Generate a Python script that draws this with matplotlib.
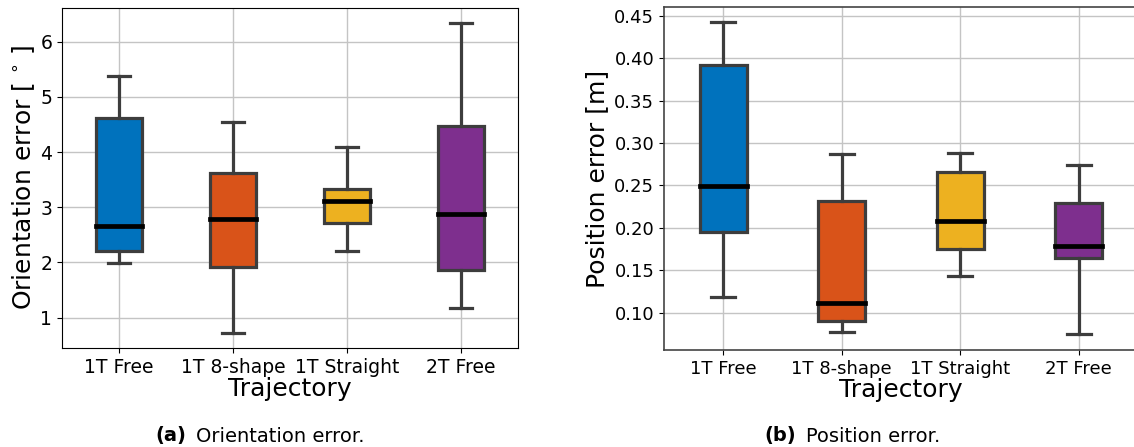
#!/usr/bin/env python3

from matplotlib.pyplot import figure, savefig, close

# Trajectory groups and box colours
labels = ["1T Free", "1T 8-shape", "1T Straight", "2T Free"]
colors = ["#0072BD", "#D95319", "#EDB120", "#7E2F8E"]

# Orientation error [deg]: whisker low, q1, median, q3, whisker high
orient_low = [1.99, 0.73, 2.20, 1.18]
orient_q1 = [2.20, 1.91, 2.71, 1.87]
orient_med = [2.66, 2.78, 3.11, 2.87]
orient_q3 = [4.61, 3.62, 3.33, 4.48]
orient_high = [5.38, 4.55, 4.10, 6.33]

# Position error [m]
pos_low = [0.119, 0.0775, 0.1427, 0.0744]
pos_q1 = [0.1945, 0.0897, 0.1753, 0.1643]
pos_med = [0.249, 0.1117, 0.2082, 0.178]
pos_q3 = [0.3915, 0.2318, 0.2663, 0.2298]
pos_high = [0.442, 0.287, 0.288, 0.2738]

EDGE = "#3d3d3d"


def stats(low, q1, med, q3, high):
    return [
        {"whislo": a, "q1": b, "med": c, "q3": d, "whishi": e, "fliers": [], "label": name}
        for a, b, c, d, e, name in zip(low, q1, med, q3, high, labels)
    ]


def draw(ax, bxstats, ylabel, tick_size, pad):
    ax.set_axisbelow(True)
    ax.grid(True, color="#c4c4c4", lw=1.0)
    bp = ax.bxp(
        bxstats,
        widths=0.4,
        patch_artist=True,
        showfliers=False,
        boxprops={"lw": 2.3, "edgecolor": EDGE},
        whiskerprops={"lw": 2.3, "color": EDGE},
        capprops={"lw": 2.3, "color": EDGE},
        medianprops={"lw": 3.4, "color": "black", "solid_capstyle": "projecting"},
    )
    for patch, c in zip(bp["boxes"], colors):
        patch.set_facecolor(c)
    ax.set_xlim(0.5, 4.5)
    ax.tick_params(labelsize=tick_size)
    ax.set_xlabel("Trajectory", fontsize=18, labelpad=0)
    ax.set_ylabel(ylabel, fontsize=18, labelpad=pad)


fig = figure(figsize=(11.34, 4.47), dpi=100)

ax1 = fig.add_axes([62 / 1134, 99 / 447, 456 / 1134, 340 / 447])
draw(ax1, stats(orient_low, orient_q1, orient_med, orient_q3, orient_high),
     r"Orientation error [$\,^\circ\,$]", 13.5, 2.5)
ax1.margins(y=0.05)

ax2 = fig.add_axes([664 / 1134, 97 / 447, 474 / 1134, 343 / 447])
draw(ax2, stats(pos_low, pos_q1, pos_med, pos_q3, pos_high),
     "Position error [m]", 13, 3.5)
ax2.set_yticks([0.10, 0.15, 0.20, 0.25, 0.30, 0.35, 0.40, 0.45])
ax2.set_ylim(0.056, 0.4602)
for s in ax2.spines.values():
    s.set_color("#444444")
    s.set_linewidth(1.2)
ax2.spines["right"].set_visible(False)

# sub-captions
cy = 1 - 436 / 447
fig.text(186 / 1134, cy, "(a)", fontsize=14, fontweight="bold", ha="right", va="center")
fig.text(196 / 1134, cy, "Orientation error.", fontsize=14, ha="left", va="center")
fig.text(796 / 1134, cy, "(b)", fontsize=14, fontweight="bold", ha="right", va="center")
fig.text(806 / 1134, cy, "Position error.", fontsize=14, ha="left", va="center")

savefig("out.png", dpi=100)
close()
